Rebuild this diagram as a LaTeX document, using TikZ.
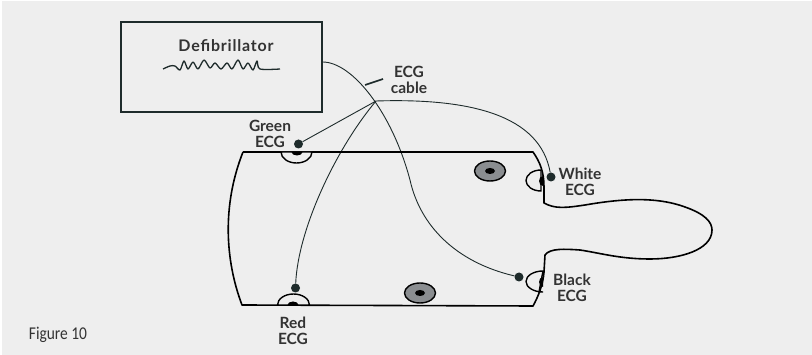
\documentclass[tikz,border=0pt]{standalone}
\usepackage{fontspec}
\setmainfont{Lato}
\newfontfamily\capfont[FakeStretch=0.86]{Carlito}
\newfontfamily\titlefont[LetterSpace=5]{Lato}
\usetikzlibrary{positioning, calc}

\definecolor{panelgrey}{HTML}{EEEEEE}
\definecolor{inkline}{HTML}{1E2B2B}
\definecolor{snapgrey}{HTML}{8A8D90}
\definecolor{labelink}{HTML}{333333}

\begin{document}
\begin{tikzpicture}[x=1pt, y=-1pt,
  devbox/.style={draw=inkline, line width=1.6pt, minimum width=201pt, minimum height=90pt, inner sep=0pt},
  lbl/.style={font=\bfseries\fontsize{15.5}{16.3}\selectfont, text=labelink, align=center, inner sep=0pt},
  lead/.style={circle, fill=inkline, minimum size=9pt, inner sep=0pt},
  cable/.style={draw=inkline, line width=0.9pt},
  outline/.style={draw=black, line width=1.6pt},
  pad/.style={draw=black, line width=1.4pt, fill=panelgrey},
  snap/.style={draw=black, line width=1.4pt, fill=snapgrey}]
  \useasboundingbox (0,0) rectangle (812,355);
  \fill[white] (0,0) rectangle (812,355);
  \fill[panelgrey] (2,1) rectangle (812,355);

  % monitor
  \node[devbox] (defib) at (221.3,67) {};
  \node[lbl, font=\titlefont\bfseries\fontsize{16}{18}\selectfont] (defiblbl) at (226,46) {Defibrillator};
  \draw[inkline, line width=1.3pt, line join=round] plot[smooth, tension=0.5] coordinates {
    (163,69) (170,66) (175,66) (180,70) (184,61) (188,69) (193,62) (198,69) (204,60)
    (210,68) (215,63) (221,69) (227,63) (232,69) (238,60) (243,69) (248,63) (253,70)
    (257,61) (260,69) (280,69)};

  % leads
  \coordinate (split) at (376,101);
  \node[lead] (greendot) at (298.5,144) {};
  \node[lead] (whitedot) at (551,177) {};
  \node[lead] (reddot) at (295.5,288) {};
  \node[lead] (blackdot) at (519,277) {};
  \draw[cable] (defib.east |- 0,62) .. controls (352,62) and (392,112) .. (410,180)
    .. controls (420,225) and (455,262) .. (blackdot);
  \draw[cable] (split) -- (greendot);
  \draw[cable] (split) .. controls (470,98) and (540,115) .. (whitedot);
  \draw[cable] (split) .. controls (335,150) and (298,230) .. (reddot);
  \draw[inkline, line width=1.6pt] (365,85) -- (383,79);
  \node[lbl] (cablelbl) at (409,80) {ECG\\cable};

  % torso
  \draw[outline, line join=round] (243,152) -- (533,152)
    .. controls (540,162) and (544,172) .. (544,187) -- (544,203)
    .. controls (555,209) and (565,208) .. (585,205)
    .. controls (620,199) and (655,196) .. (685,207)
    .. controls (705,214) and (712,222) .. (712,230)
    .. controls (712,250) and (680,259) .. (650,259)
    .. controls (620,259) and (600,253) .. (580,250)
    .. controls (565,249) and (550,248) .. (545,255)
    -- (544,272) .. controls (543,285) and (538,297) .. (533,306)
    -- (242,305) .. controls (225,260) and (222,205) .. (243,152);

  % pads on the skin
  \draw[pad] (281,152) arc[start angle=180, end angle=0, x radius=15.5, y radius=11] -- cycle;
  \fill[black] (291.5,152) arc[start angle=180, end angle=0, x radius=5.5, y radius=3.5] -- cycle;
  \draw[pad] (277.5,305) arc[start angle=180, end angle=360, x radius=16, y radius=11] -- cycle;
  \fill[black] (287.5,305) arc[start angle=180, end angle=360, x radius=5.5, y radius=3.5] -- cycle;
  \draw[pad] (541,170) arc[start angle=270, end angle=90, x radius=15, y radius=10.5] -- cycle;
  \fill[black] (543,176) arc[start angle=270, end angle=90, x radius=4, y radius=5] -- cycle;
  \draw[pad] (543,271) arc[start angle=270, end angle=90, x radius=17, y radius=10.5] -- (539,292) -- cycle;
  \fill[black] (543,277) arc[start angle=270, end angle=90, x radius=4, y radius=5] -- cycle;

  \draw[snap] (490,171) ellipse[x radius=15.5, y radius=10];
  \fill[black] (490,171) ellipse[x radius=5, y radius=3];
  \draw[snap] (420,293) ellipse[x radius=15.5, y radius=10];
  \fill[black] (420,293) ellipse[x radius=5, y radius=3];

  \node[lbl] (greenlbl) at (270,134) {Green\\ECG};
  \node[lbl] (whitelbl) at (580,182) {White\\ECG};
  \node[lbl] (blacklbl) at (572,288) {Black\\ECG};
  \node[lbl] (redlbl) at (293,331) {Red\\ECG};
  \node[font=\capfont\fontsize{18}{20}\selectfont, text=labelink, inner sep=0pt] (figlbl) at (58,335) {Figure 10};
\end{tikzpicture}
\end{document}
